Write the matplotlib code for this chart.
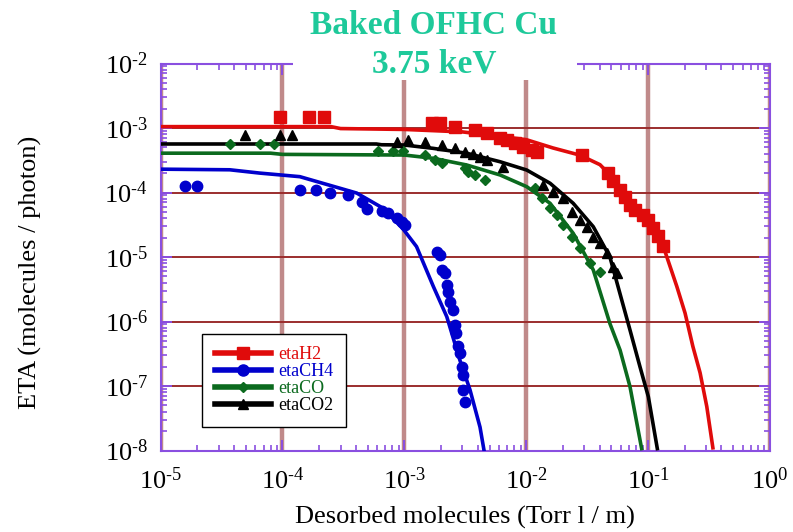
import numpy as np
import matplotlib
matplotlib.use("Agg")
import matplotlib.pyplot as plt
from matplotlib.lines import Line2D
from matplotlib.patches import Rectangle
from matplotlib.ticker import LogLocator, NullFormatter, FuncFormatter

plt.rcParams['font.family'] = ['Liberation Serif', 'DejaVu Serif']
plt.rcParams['mathtext.fontset'] = 'stix'

# ---------------- data ----------------
# etaH2 (red)
h2_x = [9.5e-5, 1.66e-4, 2.19e-4, 1.68e-3, 1.96e-3, 2.61e-3, 3.80e-3, 4.78e-3, 6.10e-3,
        6.97e-3, 8.09e-3, 9.42e-3, 1.12e-2, 1.23e-2, 2.87e-2, 4.69e-2, 5.15e-2, 5.89e-2,
        6.47e-2, 7.11e-2, 7.82e-2, 9.08e-2, 9.98e-2, 0.110, 0.120, 0.132]
h2_y = [1.5e-3, 1.5e-3, 1.5e-3, 1.18e-3, 1.2e-3, 1.03e-3, 9.3e-4, 8.4e-4, 7.0e-4,
        6.5e-4, 5.85e-4, 5.07e-4, 4.56e-4, 4.25e-4, 3.81e-4, 2.0e-4, 1.51e-4, 1.09e-4,
        8.5e-5, 6.4e-5, 5.4e-5, 4.5e-5, 3.75e-5, 2.8e-5, 2.1e-5, 1.5e-5]
h2_fit_x = [1e-5, 1e-4, 2.5e-4, 3e-4, 1e-3, 3e-3, 1e-2, 1.66e-2, 2.75e-2, 4.03e-2, 5e-2,
            6.3e-2, 7.9e-2, 0.1, 0.126, 0.138, 0.172, 0.201, 0.233, 0.267, 0.303, 0.34]
h2_fit_y = [1.05e-3, 1.05e-3, 1.05e-3, 9.8e-4, 9.5e-4, 8.7e-4, 6.6e-4, 4.9e-4, 3.8e-4,
            2.7e-4, 1.78e-4, 1.0e-4, 5.2e-5, 3.2e-5, 1.78e-5, 1.2e-5, 3.5e-6, 1.35e-6,
            4.1e-7, 1.6e-7, 4.8e-8, 1.1e-8]

# etaCH4 (blue)
ch4_x = [1.59e-5, 1.98e-5, 1.39e-4, 1.89e-4, 2.45e-4, 3.48e-4, 4.48e-4, 4.92e-4, 6.53e-4,
         7.40e-4, 8.67e-4, 9.53e-4, 1.01e-3, 1.85e-3, 1.96e-3, 2.03e-3, 2.16e-3, 2.23e-3,
         2.30e-3, 2.37e-3, 2.52e-3, 2.61e-3, 2.65e-3, 2.77e-3, 2.86e-3, 2.96e-3, 3.01e-3,
         3.05e-3, 3.15e-3]
ch4_y = [1.27e-4, 1.27e-4, 1.10e-4, 1.10e-4, 9.7e-5, 9.1e-5, 7.2e-5, 5.5e-5, 5.2e-5,
         4.8e-5, 4.0e-5, 3.5e-5, 3.1e-5, 1.21e-5, 1.07e-5, 6.4e-6, 5.6e-6, 3.7e-6,
         2.9e-6, 2.0e-6, 1.5e-6, 8.8e-7, 6.6e-7, 4.1e-7, 3.2e-7, 2.0e-7, 1.48e-7,
         8.7e-8, 5.7e-8]
ch4_fit_x = [1e-5, 3.7e-5, 6.5e-5, 1.39e-4, 4.07e-4, 6.7e-4, 9.8e-4, 1.26e-3, 1.73e-3,
             2.23e-3, 2.86e-3, 3.46e-3, 4.18e-3, 4.51e-3]
ch4_fit_y = [2.3e-4, 2.25e-4, 2.0e-4, 1.76e-4, 9.8e-5, 5.7e-5, 2.7e-5, 1.45e-5, 3.5e-6,
             1.19e-6, 2.5e-7, 8.7e-8, 2.3e-8, 1.0e-8]

# etaCO (green)
co_x = [3.72e-5, 6.55e-5, 8.53e-5, 6.08e-4, 8.04e-4, 9.75e-4, 1.48e-3, 1.79e-3, 2.03e-3,
        3.15e-3, 3.35e-3, 3.80e-3, 4.59e-3, 1.18e-2, 1.34e-2, 1.57e-2, 1.78e-2, 2.01e-2,
        2.36e-2, 2.76e-2, 3.33e-2, 4.03e-2]
co_y = [5.65e-4, 5.65e-4, 5.65e-4, 4.4e-4, 4.4e-4, 4.4e-4, 3.81e-4, 3.19e-4, 2.84e-4,
        2.37e-4, 2.10e-4, 1.87e-4, 1.56e-4, 1.16e-4, 8.1e-5, 5.7e-5, 4.5e-5, 3.1e-5,
        2.07e-5, 1.36e-5, 8.0e-6, 5.9e-6]
co_fit_x = [1e-5, 8e-5, 1e-4, 1e-3, 1.73e-3, 3.25e-3, 6.1e-3, 1.01e-2, 1.57e-2, 2.43e-2,
            3.55e-2, 4.86e-2, 5.89e-2, 7.10e-2, 8.85e-2]
co_fit_y = [4.07e-4, 4.07e-4, 3.9e-4, 3.81e-4, 3.39e-4, 2.67e-4, 1.87e-4, 1.23e-4, 6.8e-5,
            2.33e-5, 6.3e-6, 9.3e-7, 3.6e-7, 9.8e-8, 1.07e-8]

# etaCO2 (black)
co2_x = [4.93e-5, 9.55e-5, 1.19e-4, 8.67e-4, 1.08e-3, 1.48e-3, 2.03e-3, 2.61e-3, 3.15e-3,
         3.68e-3, 4.18e-3, 4.74e-3, 6.49e-3, 1.38e-2, 1.67e-2, 2.01e-2, 2.36e-2, 2.76e-2,
         3.13e-2, 3.55e-2, 4.03e-2, 4.57e-2, 5.19e-2, 5.52e-2]
co2_y = [7.8e-4, 7.8e-4, 7.8e-4, 6.1e-4, 6.5e-4, 6.1e-4, 5.45e-4, 4.84e-4, 4.30e-4,
         3.95e-4, 3.59e-4, 3.19e-4, 2.51e-4, 1.31e-4, 1.03e-4, 8.1e-5, 5.0e-5, 3.75e-5,
         2.95e-5, 2.07e-5, 1.63e-5, 1.14e-5, 7.1e-6, 5.6e-6]
co2_fit_x = [1e-5, 5.9e-4, 6.5e-4, 1e-3, 1.72e-3, 3.25e-3, 6.1e-3, 1.01e-2, 1.57e-2,
             2.43e-2, 3.55e-2, 4.86e-2, 7.10e-2, 8.57e-2, 0.1005, 0.119]
co2_fit_y = [5.65e-4, 5.65e-4, 5.5e-4, 5.45e-4, 4.84e-4, 4.06e-4, 3.0e-4, 2.23e-4, 1.39e-4,
             6.8e-5, 2.95e-5, 1.0e-5, 7.4e-7, 2.0e-7, 6.8e-8, 1.07e-8]

x_label = "Desorbed molecules (Torr l / m)"
y_label = "ETA (molecules / photon)"
title_lines = ["Baked OFHC Cu", "3.75 keV"]
legend_labels = ['etaH2', 'etaCH4', 'etaCO', 'etaCO2']

# ---------------- figure ----------------
W, H = 793, 532
fig = plt.figure(figsize=(W / 100, H / 100), dpi=100)
ax = fig.add_axes([160.5 / W, (H - 450.5) / H, (770 - 160.5) / W, (450.5 - 63.5) / H])

red, blue, green, black = '#e00b0b', '#0000cc', '#0b6a1e', '#000000'
lw = 2.6

ax.plot(h2_fit_x, h2_fit_y, color=red, lw=lw, zorder=3)
ax.plot(ch4_fit_x, ch4_fit_y, color=blue, lw=lw, zorder=3)
ax.plot(co_fit_x, co_fit_y, color=green, lw=lw, zorder=3)
ax.plot(co2_fit_x, co2_fit_y, color=black, lw=lw, zorder=3)

ax.plot(h2_x, h2_y, 's', color=red, ms=8.5, mec=red, zorder=4)
ax.plot(ch4_x, ch4_y, 'o', color=blue, ms=7.5, mec=blue, zorder=4)
ax.plot(co_x, co_y, 'D', color=green, ms=5, mec=green, zorder=4)
ax.plot(co2_x, co2_y, '^', color=black, ms=7.5, mec=black, zorder=4)

ax.set_xscale('log')
ax.set_yscale('log')
ax.set_xlim(1e-5, 1)
ax.set_ylim(1e-8, 1e-2)


def dec_fmt(v, pos):
    e = int(round(np.log10(v)))
    if e < 0:
        return r'$\mathregular{10^{\text{-}%d}}$' % (-e)
    return r'$\mathregular{10^{%d}}$' % e


ax.xaxis.set_major_locator(LogLocator(base=10, numticks=20))
ax.yaxis.set_major_locator(LogLocator(base=10, numticks=20))
ax.xaxis.set_major_formatter(FuncFormatter(dec_fmt))
ax.yaxis.set_major_formatter(FuncFormatter(dec_fmt))
ax.xaxis.set_minor_locator(LogLocator(base=10, subs=np.arange(2, 10), numticks=50))
ax.yaxis.set_minor_locator(LogLocator(base=10, subs=np.arange(2, 10), numticks=50))
ax.xaxis.set_minor_formatter(NullFormatter())
ax.yaxis.set_minor_formatter(NullFormatter())

purple = '#8a4fe0'
for s in ax.spines.values():
    s.set_color(purple)
    s.set_linewidth(1.5)
ax.tick_params(which='both', direction='in', top=True, right=True, color=purple,
               labelsize=19, labelcolor='black')
ax.tick_params(which='major', length=8, width=1.4)
ax.tick_params(which='minor', length=4, width=1.2)
ax.tick_params(axis='x', pad=12)
ax.tick_params(axis='y', pad=9)

ax.set_axisbelow(True)
ax.xaxis.grid(True, which='major', color='#c08a8a', lw=3.2)
ax.yaxis.grid(True, which='major', color='#9b2d2d', lw=1.4)

ax.set_xlabel(x_label, fontsize=19)
ax.set_ylabel(y_label, fontsize=19)
ax.xaxis.set_label_coords(0.5, -0.143)
ax.yaxis.set_label_coords(-0.194, 0.461)

handles = [
    Line2D([], [], color=red, lw=4, marker='s', ms=8),
    Line2D([], [], color=blue, lw=4, marker='o', ms=8),
    Line2D([], [], color=green, lw=4, marker='D', ms=5),
    Line2D([], [], color=black, lw=4, marker='^', ms=7),
]
leg = ax.legend(handles, legend_labels, loc='lower left', bbox_to_anchor=(0.068, 0.061),
                borderaxespad=0, fontsize=13, handlelength=3.1, handletextpad=0.4,
                labelspacing=0.0, borderpad=0.7, fancybox=False, framealpha=1,
                edgecolor='black', numpoints=1)
leg.get_frame().set_linewidth(1.0)
leg.set_zorder(6)
for t, c in zip(leg.get_texts(), [red, blue, green, black]):
    t.set_color(c)

# white block behind the title (it breaks the top frame)
fig.add_artist(Rectangle((293 / W, (H - 80) / H), (577 - 293) / W, 35 / H,
                         transform=fig.transFigure, facecolor='white',
                         edgecolor='none', zorder=5))
tcol = '#1ec99a'
fig.text(434 / W, 1 - 25 / H, title_lines[0], ha='center', va='center', fontsize=24,
         fontweight='bold', color=tcol, zorder=7)
fig.text(434 / W, 1 - 64 / H, title_lines[1], ha='center', va='center', fontsize=24,
         fontweight='bold', color=tcol, zorder=7)

fig.savefig('out.png', dpi=100)
